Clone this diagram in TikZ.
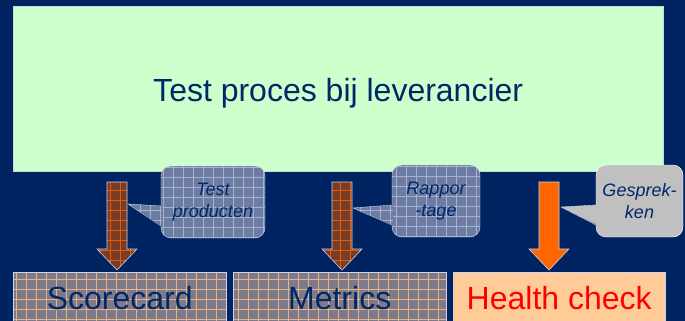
\documentclass[tikz,border=0pt]{standalone}
\usepackage{fontspec}
\setmainfont{Liberation Sans}
\usetikzlibrary{positioning,calc}
\definecolor{navybg}{RGB}{0,36,98}
\definecolor{navytxt}{RGB}{0,40,105}
\definecolor{mint}{RGB}{204,255,204}
\definecolor{slate}{RGB}{108,124,162}
\definecolor{slateline}{RGB}{165,177,205}
\definecolor{rust}{RGB}{122,60,36}
\definecolor{rustline}{RGB}{222,92,20}
\definecolor{greybox}{RGB}{126,122,138}
\definecolor{greyline}{RGB}{228,180,136}
\definecolor{peach}{RGB}{255,204,153}
\definecolor{hotorange}{RGB}{255,102,0}
\definecolor{silver}{RGB}{192,192,192}
\definecolor{rim}{RGB}{205,212,228}
\tikzset{
  gridfill/.style={path picture={\draw[#1,line width=0.6pt]
    (path picture bounding box.south west) grid[step=10pt]
    (path picture bounding box.north east);}},
  procbox/.style={draw=rim,fill=mint,anchor=north west,inner sep=0pt,
    minimum width=650pt,minimum height=165pt,text=navytxt,
    font=\fontsize{32}{38}\selectfont},
  resbox/.style={draw=rim,anchor=north west,inner sep=0pt,
    minimum width=213pt,minimum height=51pt,text=navytxt,
    font=\fontsize{32}{38}\selectfont},
  calbox/.style={draw=rim,rounded corners=10pt,inner sep=0pt,
    minimum height=72pt,align=center,text=navytxt,
    font=\fontsize{18}{22}\selectfont\itshape},
  slatefill/.style={fill=slate,gridfill=slateline},
  silverfill/.style={fill=silver},
  arrbrown/.style={draw=rim,line width=0.6pt,fill=rust,gridfill=rustline},
  arrorange/.style={draw=rim,line width=0.6pt,fill=hotorange},
}
% block arrow: top of shaft, tip
\newcommand{\blockarr}[3]{%
  \path[#1] ($(#2)+(-10,0)$) -- ($(#3)+(-10,-21)$) -- ($(#3)+(-20,-21)$)
    -- (#3) -- ($(#3)+(20,-21)$) -- ($(#3)+(10,-21)$)
    -- ($(#2)+(10,0)$) -- cycle;}
% callout pointer from a tip to the west side of a callout
\newcommand{\calptr}[3]{%
  \path[#3] (#1) -- ($(#2.west)+(1.5,4)$) -- ($(#2.west)+(1.5,24)$) -- cycle;
  \draw[rim] ($(#2.west)+(0,4)$) -- (#1) -- ($(#2.west)+(0,24)$);}
\begin{document}
\begin{tikzpicture}[x=1pt,y=-1pt]
\clip (0,0) rectangle (685,321);
\fill[navybg] (0,0) rectangle (685,321);
\node[procbox] (proc) at (13,6) {\raisebox{-5pt}[\height][\depth]{Test proces bij leverancier}};

\node[resbox,fill=greybox,gridfill=greyline] (score) at (13,272) {Scorecard};
\node[resbox,fill=greybox,gridfill=greyline] (metr) at (233,272) {Metrics};
\node[resbox,fill=peach,text=red,minimum width=212pt] (health) at (453,272) {Health check};

\coordinate (a1top) at (117,182);
\coordinate (a1tip) at (117,270);
\coordinate (a2top) at (342,182);
\coordinate (a2tip) at (342,270);
\coordinate (a3top) at (549,182);
\coordinate (a3tip) at (549,270);
\blockarr{arrbrown}{a1top}{a1tip}
\blockarr{arrbrown}{a2top}{a2tip}
\blockarr{arrorange}{a3top}{a3tip}

\node[calbox,slatefill,minimum width=104pt] (cal1) at (213,202) {Test\\producten};
\node[calbox,slatefill,minimum width=88pt] (cal2) at (436,201) {Rappor\\-tage};
\node[calbox,silverfill,draw=white,minimum width=87pt] (cal3) at (639.5,201) {Gesprek-\\ken};

\coordinate (p1) at ($(a1top)+(11,22)$);
\coordinate (p2) at ($(a2top)+(11,26)$);
\coordinate (p3) at ($(a3top)+(12,25)$);
\calptr{p1}{cal1}{slatefill}
\calptr{p2}{cal2}{slatefill}
\calptr{p3}{cal3}{silverfill}
\end{tikzpicture}
\end{document}
